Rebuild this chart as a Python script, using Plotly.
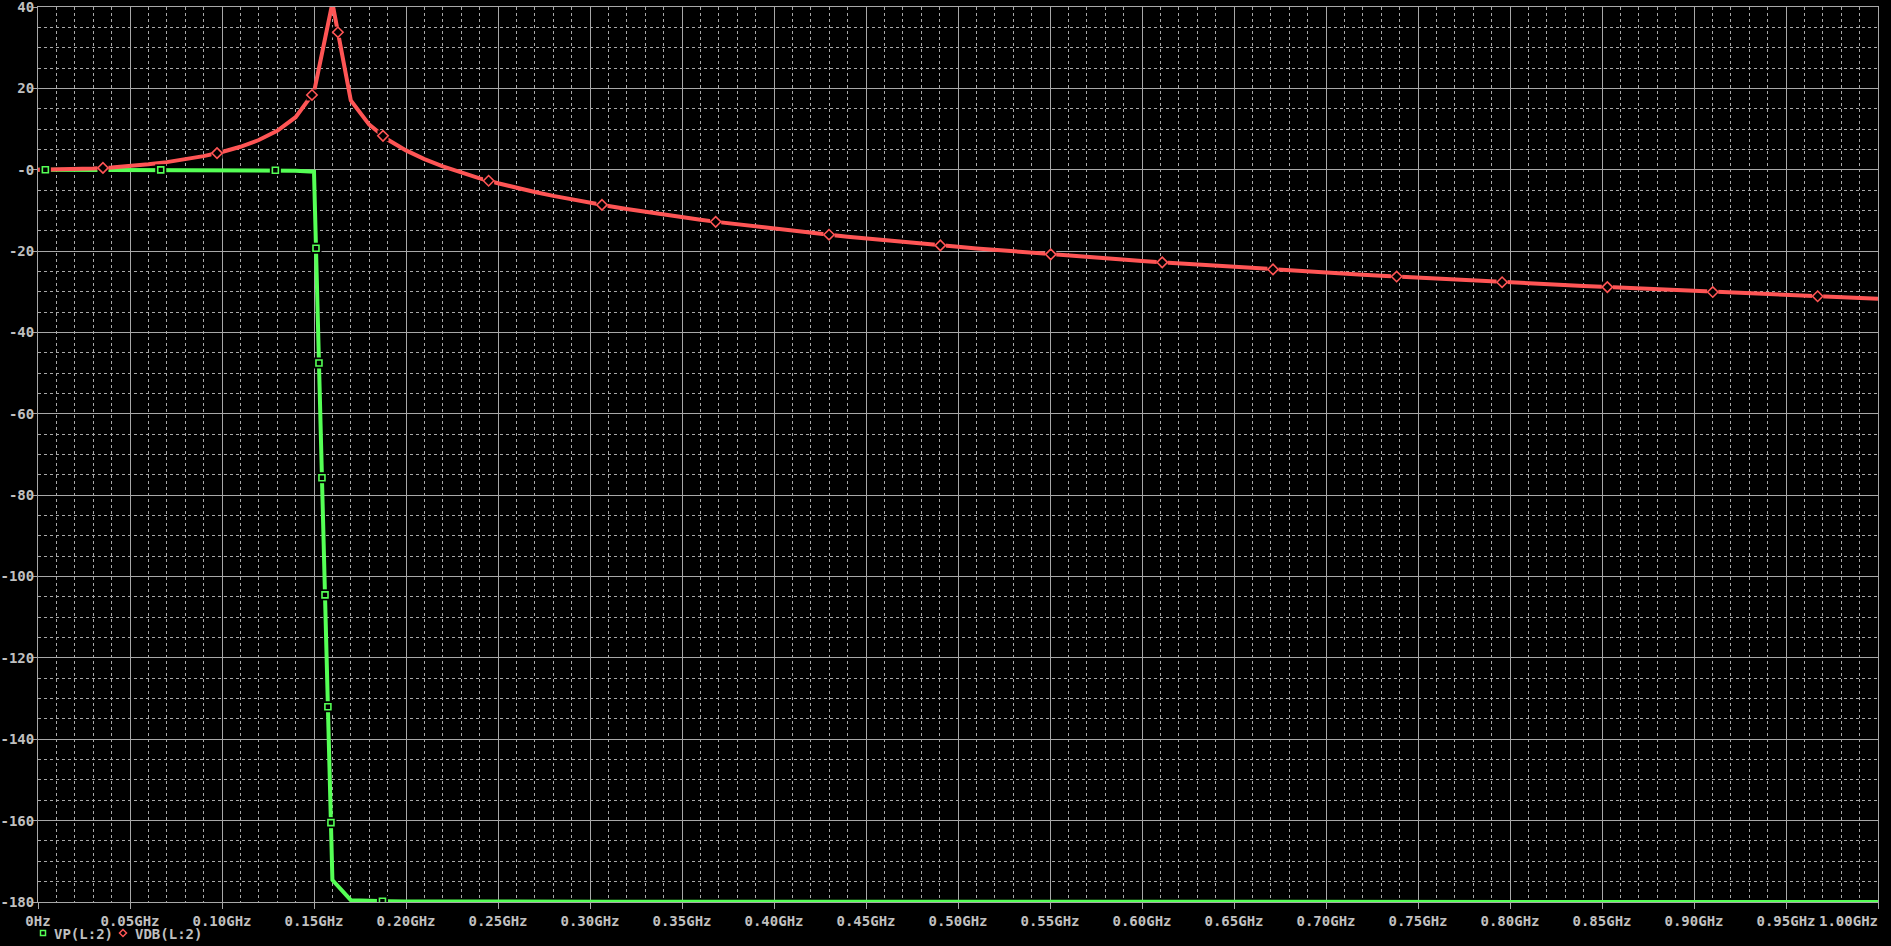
import plotly.graph_objects as go

# ---------------- data ----------------
freq_ghz = [
    0.00, 0.01, 0.02, 0.03, 0.04, 0.05, 0.06, 0.07, 0.08, 0.09,
    0.10, 0.11, 0.12, 0.13, 0.14, 0.15, 0.16, 0.17, 0.18, 0.19,
    0.20, 0.21, 0.22, 0.23, 0.24, 0.25, 0.26, 0.27, 0.28, 0.29,
    0.30, 0.31, 0.32, 0.33, 0.34, 0.35, 0.36, 0.37, 0.38, 0.39,
    0.40, 0.41, 0.42, 0.43, 0.44, 0.45, 0.46, 0.47, 0.48, 0.49,
    0.50, 0.51, 0.52, 0.53, 0.54, 0.55, 0.56, 0.57, 0.58, 0.59,
    0.60, 0.61, 0.62, 0.63, 0.64, 0.65, 0.66, 0.67, 0.68, 0.69,
    0.70, 0.71, 0.72, 0.73, 0.74, 0.75, 0.76, 0.77, 0.78, 0.79,
    0.80, 0.81, 0.82, 0.83, 0.84, 0.85, 0.86, 0.87, 0.88, 0.89,
    0.90, 0.91, 0.92, 0.93, 0.94, 0.95, 0.96, 0.97, 0.98, 0.99,
    1.00,
]

# VDB(L:2) in dB
vdb = [
    0.00, 0.03, 0.14, 0.31, 0.57, 0.90, 1.33, 1.87, 2.53, 3.35,
    4.37, 5.64, 7.30, 9.55, 12.91, 19.04, 41.0, 17.02, 11.08, 7.43,
    4.75, 2.61, 0.81, -0.73, -2.11, -3.33, -4.45, -5.47, -6.42, -7.31,
    -8.14, -8.92, -9.67, -10.37, -11.04, -11.68, -12.29, -12.88, -13.44, -13.99,
    -14.51, -15.02, -15.51, -15.99, -16.45, -16.90, -17.33, -17.75, -18.16, -18.56,
    -18.96, -19.34, -19.71, -20.08, -20.43, -20.78, -21.12, -21.46, -21.79, -22.11,
    -22.42, -22.73, -23.03, -23.33, -23.62, -23.91, -24.19, -24.47, -24.74, -25.01,
    -25.27, -25.53, -25.79, -26.04, -26.29, -26.53, -26.77, -27.01, -27.24, -27.47,
    -27.70, -27.92, -28.15, -28.37, -28.58, -28.79, -29.00, -29.21, -29.42, -29.62,
    -29.82, -30.02, -30.22, -30.41, -30.60, -30.79, -30.98, -31.16, -31.34, -31.53,
    -31.70,
]

# VP(L:2) in degrees
vp = [
    0.00, -0.01, -0.01, -0.02, -0.02, -0.03, -0.04, -0.04, -0.05, -0.06,
    -0.07, -0.09, -0.11, -0.15, -0.23, -0.50, -174.6, -179.55, -179.74, -179.82,
    -179.86, -179.89, -179.90, -179.91, -179.92, -179.93, -179.94, -179.94, -179.94, -179.94,
    -179.94, -179.95, -179.95, -179.95, -179.95, -179.95, -179.95, -179.95, -179.95, -179.95,
    -179.95, -179.96, -179.96, -179.96, -179.96, -179.96, -179.96, -179.96, -179.96, -179.96,
    -179.96, -179.96, -179.96, -179.96, -179.96, -179.96, -179.97, -179.97, -179.97, -179.97,
    -179.97, -179.97, -179.97, -179.97, -179.97, -179.97, -179.97, -179.97, -179.97, -179.97,
    -179.97, -179.97, -179.97, -179.97, -179.97, -179.97, -179.98, -179.98, -179.98, -179.98,
    -179.98, -179.98, -179.98, -179.98, -179.98, -179.98, -179.98, -179.98, -179.98, -179.98,
    -179.98, -179.98, -179.98, -179.98, -179.98, -179.98, -179.98, -179.98, -179.98, -179.98,
    -179.98,
]

# trace symbol markers (as seen on the picture)
vp_marker_f = [0.004, 0.0667, 0.129, 0.15108, 0.1527, 0.15432, 0.15598, 0.15756, 0.1592, 0.1872]
vp_marker_v = [0.0, -0.03, -0.14, -19.3, -47.5, -75.7, -104.5, -132.0, -160.5, -179.8]

vdb_marker_f = [0.0353, 0.0973, 0.1489, 0.1630, 0.1875, 0.2449, 0.3065, 0.3683, 0.4299,
                0.4904, 0.5504, 0.6110, 0.6712, 0.7384, 0.7957, 0.8529, 0.9102, 0.9672]
vdb_marker_v = [0.45, 4.09, 18.37, 33.8, 8.34, -2.71, -8.65, -12.8, -15.98,
                -18.6, -20.8, -22.76, -24.5, -26.25, -27.65, -28.85, -30.06, -31.1]

x_tickvals = [0.00, 0.05, 0.10, 0.15, 0.20, 0.25, 0.30, 0.35, 0.40, 0.45, 0.50,
              0.55, 0.60, 0.65, 0.70, 0.75, 0.80, 0.85, 0.90, 0.95, 1.00]
x_ticktext = ["0Hz", "0.05GHz", "0.10GHz", "0.15GHz", "0.20GHz", "0.25GHz", "0.30GHz",
              "0.35GHz", "0.40GHz", "0.45GHz", "0.50GHz", "0.55GHz", "0.60GHz", "0.65GHz",
              "0.70GHz", "0.75GHz", "0.80GHz", "0.85GHz", "0.90GHz", "0.95GHz", "1.00GHz"]
y_tickvals = [40, 20, 0, -20, -40, -60, -80, -100, -120, -140, -160, -180]
y_ticktext = ["40", "20", "-0", "-20", "-40", "-60", "-80", "-100", "-120", "-140", "-160", "-180"]

legend_names = ["VP(L:2)", "VDB(L:2)"]
x_title = "Frequency"

# ---------------- styling ----------------
GREEN = "#55ff55"
RED = "#ff5555"
GRID = "#a8a8a8"
TEXT = "#c0c0c0"
FONT = dict(family="DejaVu Sans Mono", size=14, color=TEXT, weight="bold")

fig = go.Figure()

fig.add_trace(go.Scatter(x=freq_ghz, y=vp, mode="lines",
                         line=dict(color=GREEN, width=4), cliponaxis=False,
                         hoverinfo="skip", showlegend=False))
fig.add_trace(go.Scatter(x=freq_ghz, y=vdb, mode="lines",
                         line=dict(color=RED, width=4), cliponaxis=False,
                         hoverinfo="skip", showlegend=False))

# black backing behind the symbols (gaps in the traces)
fig.add_trace(go.Scatter(x=vp_marker_f, y=vp_marker_v, mode="markers",
                         marker=dict(symbol="square", size=11, color="black", line=dict(width=0)),
                         hoverinfo="skip", showlegend=False))
fig.add_trace(go.Scatter(x=vdb_marker_f, y=vdb_marker_v, mode="markers",
                         marker=dict(symbol="square", size=11, color="black", line=dict(width=0)),
                         hoverinfo="skip", showlegend=False))
fig.add_trace(go.Scatter(x=vp_marker_f, y=vp_marker_v, mode="markers",
                         marker=dict(symbol="square", size=6, color="black",
                                     line=dict(color=GREEN, width=1.6)),
                         hoverinfo="skip", showlegend=False))
fig.add_trace(go.Scatter(x=vdb_marker_f, y=vdb_marker_v, mode="markers",
                         marker=dict(symbol="diamond", size=8, color="black",
                                     line=dict(color=RED, width=1.6)),
                         hoverinfo="skip", showlegend=False))

axis_common = dict(
    showgrid=True, gridcolor=GRID, gridwidth=1,
    showline=True, linecolor=GRID, linewidth=1, mirror=True,
    ticks="outside", tickcolor=GRID, tickwidth=1,
    tickfont=FONT, zeroline=False, tickmode="array", automargin=False,
    ticklabeloverflow="allow",
)

# last x label is drawn right-aligned to its tick (as in the reference)
x_ticktext_axis = x_ticktext[:-1] + [""]

fig.update_xaxes(
    range=[0, 1.0], tickvals=x_tickvals, ticktext=x_ticktext_axis, ticklen=6,
    minor=dict(tickmode="linear", tick0=0, dtick=0.01, showgrid=True,
               gridcolor=GRID, gridwidth=1, griddash="3px,3px", ticks=""),
    **axis_common,
)
fig.update_yaxes(
    range=[-180, 40], tickvals=y_tickvals, ticktext=y_ticktext, ticklen=4,
    ticklabelstandoff=-4,
    minor=dict(tickmode="linear", tick0=0, dtick=5, showgrid=True,
               gridcolor=GRID, gridwidth=1, griddash="3px,3px", ticks=""),
    **axis_common,
)

fig.add_annotation(text=x_ticktext[-1], xref="x", yref="paper", x=x_tickvals[-1], y=0,
                   yshift=-9, xanchor="right", yanchor="top", xshift=2,
                   showarrow=False, font=FONT)

# legend (PSpice style, below the x labels)
fig.add_shape(type="rect", xref="paper", yref="paper", xsizemode="pixel", ysizemode="pixel",
              xanchor=0, yanchor=0, x0=2.5, x1=7.5, y0=-33.5, y1=-28.5,
              line=dict(color=GREEN, width=1.5), fillcolor="black")
fig.add_shape(type="path", xref="paper", yref="paper", xsizemode="pixel", ysizemode="pixel",
              xanchor=0, yanchor=0, path="M 85 -27.5 L 88.5 -31 L 85 -34.5 L 81.5 -31 Z",
              line=dict(color=RED, width=1.5), fillcolor="black")
fig.add_annotation(text=legend_names[0], xref="paper", yref="paper", x=0, y=0,
                   xshift=14, yshift=-32, xanchor="left", yanchor="middle",
                   showarrow=False, font=FONT)
fig.add_annotation(text=legend_names[1], xref="paper", yref="paper", x=0, y=0,
                   xshift=95, yshift=-32, xanchor="left", yanchor="middle",
                   showarrow=False, font=FONT)
fig.add_annotation(text=x_title, xref="paper", yref="paper", x=0.5, y=0,
                   yshift=-40, xanchor="center", yanchor="top",
                   showarrow=False, font=FONT)

fig.update_layout(
    width=1891, height=946,
    margin=dict(l=38, r=13, t=7, b=44),
    paper_bgcolor="black", plot_bgcolor="black",
    showlegend=False,
)

fig.write_html("out.html", config={"displayModeBar": False},
               post_script="document.body.style.margin='0';document.body.style.overflow='hidden';")
